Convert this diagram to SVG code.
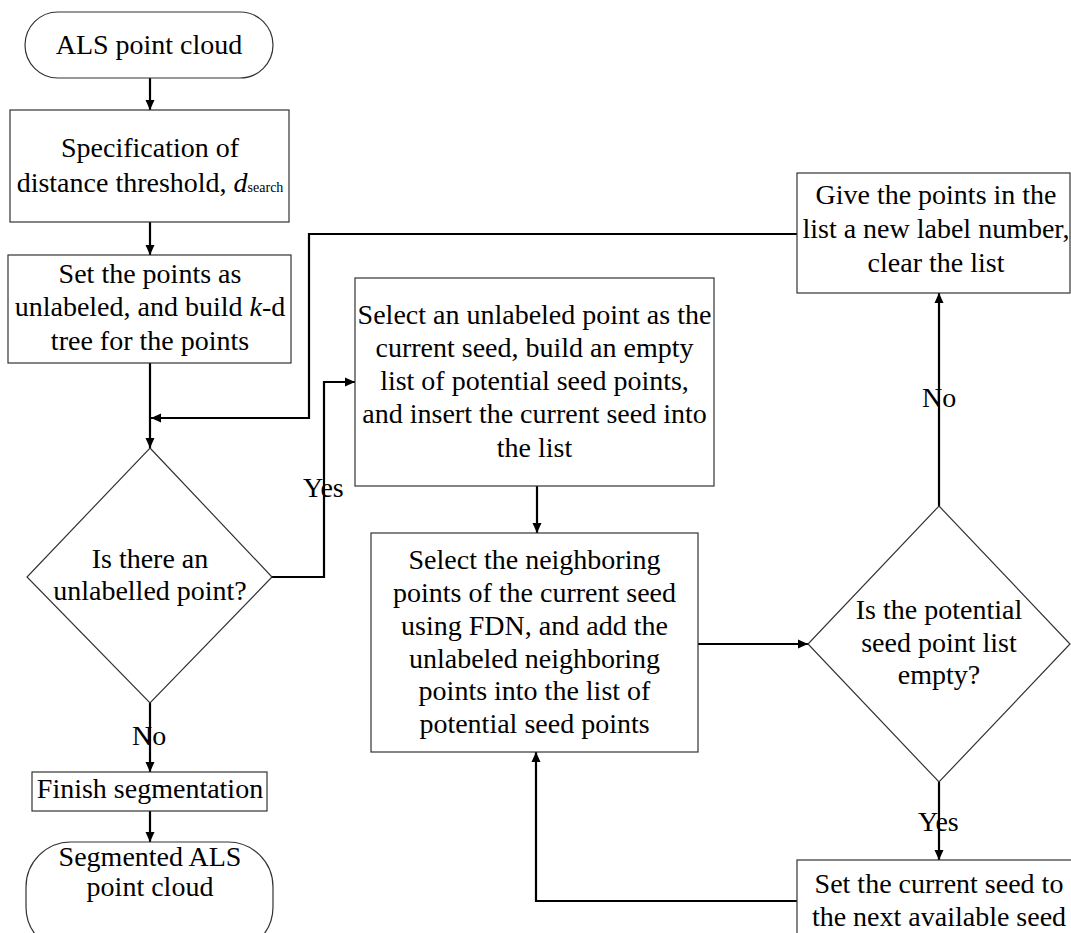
<svg xmlns="http://www.w3.org/2000/svg" width="1071" height="933" viewBox="0 0 1071 933">
<style>
.box{fill:#fff;stroke:#333;stroke-width:1.2}
.conn{fill:none;stroke:#000;stroke-width:2.2}
text{font-family:"Liberation Serif","Times New Roman",serif;font-size:28px;fill:#000;text-anchor:middle}
.lbl{text-anchor:start}
</style>
<defs>
<marker id="arr" markerWidth="11" markerHeight="11" refX="10" refY="5" orient="auto" markerUnits="userSpaceOnUse">
<path d="M0,0.5 L10,5 L0,9.5 Z" fill="#000"/>
</marker>
</defs>
<rect width="1071" height="933" fill="#fff"/>
<g id="connectors">
<path class="conn" d="M150,78 V110" marker-end="url(#arr)"/>
<path class="conn" d="M150,222 V255" marker-end="url(#arr)"/>
<path class="conn" d="M150,363 V448" marker-end="url(#arr)"/>
<path class="conn" d="M797,234 H309 V418 H151" marker-end="url(#arr)"/>
<path class="conn" d="M272,577 H324 V382 H355" marker-end="url(#arr)"/>
<path class="conn" d="M150,703 V772" marker-end="url(#arr)"/>
<path class="conn" d="M150,811 V842" marker-end="url(#arr)"/>
<path class="conn" d="M537,486 V533" marker-end="url(#arr)"/>
<path class="conn" d="M698,644 H808" marker-end="url(#arr)"/>
<path class="conn" d="M939,506 V293" marker-end="url(#arr)"/>
<path class="conn" d="M939,782 V860" marker-end="url(#arr)"/>
<path class="conn" d="M797,901 H536 V752" marker-end="url(#arr)"/>
<text class="lbl" x="303" y="497">Yes</text>
<text class="lbl" x="132" y="745">No</text>
<text class="lbl" x="922" y="407">No</text>
<text class="lbl" x="918" y="831">Yes</text>
</g>
<g id="start">
<rect class="box" x="25" y="12" width="248" height="66" rx="33"/>
<text x="149" y="54">ALS point cloud</text>
</g>
<g id="spec">
<rect class="box" x="10" y="110" width="279" height="112"/>
<text x="150" y="157">Specification of</text>
<text x="150" y="192">distance threshold, <tspan font-style="italic">d</tspan><tspan font-size="14">search</tspan></text>
</g>
<g id="setlabel">
<rect class="box" x="8" y="255" width="283" height="108"/>
<text x="150" y="283">Set the points as</text>
<text x="150" y="316">unlabeled, and build <tspan font-style="italic">k</tspan>-d</text>
<text x="150" y="350">tree for the points</text>
</g>
<g id="decision1">
<polygon class="box" points="150,448 272,577 150,703 27,577"/>
<text x="150" y="568">Is there an</text>
<text x="150" y="600">unlabelled point?</text>
</g>
<g id="finish">
<rect class="box" x="32" y="772" width="235" height="39"/>
<text x="150" y="798">Finish segmentation</text>
</g>
<g id="end">
<rect class="box" x="26" y="842" width="247" height="110" rx="45"/>
<text x="150" y="866">Segmented ALS</text>
<text x="150" y="896">point cloud</text>
</g>
<g id="selectseed">
<rect class="box" x="355" y="278" width="359" height="208"/>
<text x="534.5" y="324">Select an unlabeled point as the</text>
<text x="534.5" y="357">current seed, build an empty</text>
<text x="534.5" y="390">list of potential seed points,</text>
<text x="534.5" y="423">and insert the current seed into</text>
<text x="534.5" y="457">the list</text>
</g>
<g id="neighbors">
<rect class="box" x="371" y="533" width="327" height="219"/>
<text x="534.5" y="569">Select the neighboring</text>
<text x="534.5" y="602">points of the current seed</text>
<text x="534.5" y="635">using FDN, and add the</text>
<text x="534.5" y="668">unlabeled neighboring</text>
<text x="534.5" y="700">points into the list of</text>
<text x="534.5" y="733">potential seed points</text>
</g>
<g id="decision2">
<polygon class="box" points="939,506 1070,644 939,782 808,644"/>
<text x="939" y="619">Is the potential</text>
<text x="939" y="652">seed point list</text>
<text x="939" y="684">empty?</text>
</g>
<g id="givelabel">
<rect class="box" x="797" y="173" width="273" height="120"/>
<text x="936" y="204">Give the points in the</text>
<text x="936" y="238">list a new label number,</text>
<text x="936" y="272">clear the list</text>
</g>
<g id="nextseed">
<rect class="box" x="797" y="860" width="290" height="100"/>
<text x="939" y="893">Set the current seed to</text>
<text x="939" y="926">the next available seed</text>
</g>
</svg>
